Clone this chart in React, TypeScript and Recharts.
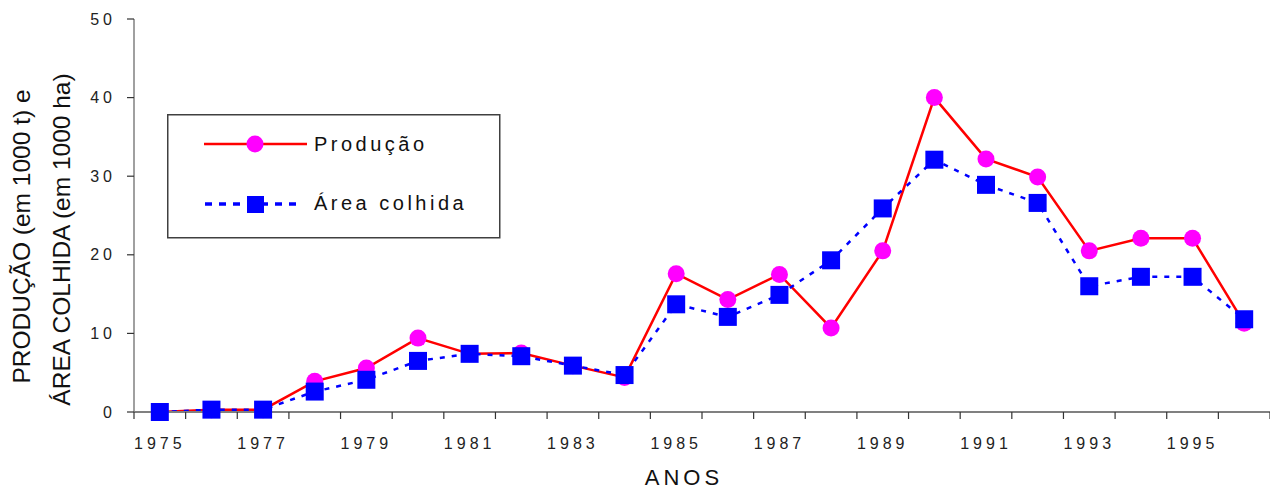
import React from 'react';
import { LineChart, Line, XAxis, YAxis, Legend } from 'recharts';

const years = [1975, 1976, 1977, 1978, 1979, 1980, 1981, 1982, 1983, 1984, 1985, 1986, 1987, 1988, 1989, 1990, 1991, 1992, 1993, 1994, 1995, 1996];
const producao = [0, 0.3, 0.3, 3.9, 5.6, 9.4, 7.4, 7.5, 5.9, 4.4, 17.6, 14.3, 17.5, 10.7, 20.5, 40.0, 32.2, 29.9, 20.5, 22.1, 22.1, 11.3];
const areaColhida = [0, 0.3, 0.3, 2.6, 4.1, 6.5, 7.4, 7.1, 5.9, 4.7, 13.7, 12.1, 14.9, 19.3, 25.9, 32.1, 28.9, 26.6, 16.0, 17.2, 17.2, 11.8];
const yTicks = [0, 10, 20, 30, 40, 50];
const labelYears = [1975, 1977, 1979, 1981, 1983, 1985, 1987, 1989, 1991, 1993, 1995];
const seriesNames = ['Produção', 'Área colhida'];
const yTitleLines = ['PRODUÇÃO (em 1000 t) e', 'ÁREA COLHIDA (em 1000 ha)'];
const xTitle = 'ANOS';

const data = years.map((year, i) => ({ year, producao: producao[i], area: areaColhida[i] }));
const boundaryTicks = [...years.map((y) => y - 0.5), years[years.length - 1] + 0.5];

const FONT = "'Liberation Sans', Arial, sans-serif";

const CircleDot = (props: any) => {
  const { cx, cy } = props;
  if (cx == null || cy == null) return <g />;
  return <circle cx={cx} cy={cy} r={8.5} fill="#ff00ff" stroke="none" />;
};

const SquareDot = (props: any) => {
  const { cx, cy } = props;
  if (cx == null || cy == null) return <g />;
  return <rect x={cx - 9} y={cy - 9} width={18} height={18} fill="#0000ff" stroke="none" />;
};

const YTitle = (props: any) => {
  const vb = props.viewBox || { x: 0, y: 11, width: 126, height: 393 };
  const cy1 = vb.y + vb.height / 2 + 21;
  const cy2 = vb.y + vb.height / 2 + 24;
  const x1 = vb.x + 22;
  const x2 = vb.x + 62;
  return (
    <g>
      <text x={x1} y={cy1} transform={`rotate(-90, ${x1}, ${cy1})`} textAnchor="middle" fontSize={24.5} fill="#111" fontFamily={FONT}>
        {yTitleLines[0]}
      </text>
      <text x={x2} y={cy2} transform={`rotate(-90, ${x2}, ${cy2})`} textAnchor="middle" fontSize={24.5} fill="#111" fontFamily={FONT}>
        {yTitleLines[1]}
      </text>
    </g>
  );
};

const XTitle = (props: any) => {
  const vb = props.viewBox || { x: 126, y: 405, width: 1136, height: 40 };
  const x = vb.x + vb.width / 2 - 18;
  const y = vb.y + 72;
  return (
    <text x={x} y={y} textAnchor="middle" fontSize={22} letterSpacing={4} fill="#111" fontFamily={FONT}>
      {xTitle}
    </text>
  );
};

const LegendBox = () => (
  <svg width={334} height={126} style={{ display: 'block' }}>
    <rect x={0.75} y={0.75} width={332} height={123} fill="#fff" stroke="#404040" strokeWidth={1.5} />
    <line x1={37} y1={30} x2={140} y2={30} stroke="#ff0000" strokeWidth={2.5} />
    <circle cx={88} cy={30} r={8.5} fill="#ff00ff" />
    <text x={147} y={37} fontSize={20} letterSpacing={3.5} fill="#111" fontFamily={FONT}>{seriesNames[0]}</text>
    <line x1={38} y1={90} x2={136} y2={90} stroke="#0000ff" strokeWidth={3.5} strokeDasharray="7 7" />
    <rect x={80} y={82} width={17} height={17} fill="#0000ff" />
    <text x={147} y={96} fontSize={20} letterSpacing={3.5} fill="#111" fontFamily={FONT}>{seriesNames[1]}</text>
  </svg>
);

const EmptyTick = () => <g />;

export default function App() {
  return (
    <div style={{ width: 1270, height: 485, background: '#fff', fontFamily: FONT }}>
      <LineChart
        width={1270}
        height={485}
        data={data}
        margin={{ top: 11, right: 8, bottom: 40, left: 0 }}
        style={{ fontFamily: FONT }}
      >
        <XAxis
          xAxisId="a"
          type="number"
          dataKey="year"
          domain={[1974.5, 1996.5]}
          ticks={boundaryTicks}
          interval={0}
          allowDataOverflow
          height={1}
          tickSize={7}
          tick={<EmptyTick />}
          axisLine={{ stroke: '#808080', strokeWidth: 2 }}
          tickLine={{ stroke: '#333', strokeWidth: 1.2 }}
        />
        <XAxis
          xAxisId="b"
          type="number"
          dataKey="year"
          domain={[1974.5, 1996.5]}
          ticks={labelYears}
          interval={0}
          allowDataOverflow
          height={40}
          axisLine={false}
          tickLine={false}
          tickSize={0}
          tickMargin={25}
          tick={{ fontSize: 16, fill: '#222', letterSpacing: 4, fontFamily: FONT }}
          label={<XTitle />}
        />
        <YAxis
          type="number"
          domain={[0, 50]}
          ticks={yTicks}
          interval={0}
          width={126}
          tickSize={7}
          tickMargin={11}
          tick={{ fontSize: 16, fill: '#222', letterSpacing: 4, fontFamily: FONT }}
          axisLine={{ stroke: '#808080', strokeWidth: 1.5 }}
          tickLine={{ stroke: '#333', strokeWidth: 1.2 }}
          label={<YTitle />}
        />
        <Legend
          layout="horizontal"
          verticalAlign="middle"
          align="center"
          content={() => <LegendBox />}
          wrapperStyle={{ position: 'absolute', left: 159, top: 106, width: 334, height: 126 }}
        />
        <Line
          xAxisId="b"
          type="linear"
          dataKey="producao"
          name={seriesNames[0]}
          stroke="#ff0000"
          strokeWidth={2.5}
          dot={<CircleDot />}
          activeDot={false}
          isAnimationActive={false}
        />
        <Line
          xAxisId="b"
          type="linear"
          dataKey="area"
          name={seriesNames[1]}
          stroke="#0000ff"
          strokeWidth={2.5}
          strokeDasharray="5 7"
          dot={<SquareDot />}
          activeDot={false}
          isAnimationActive={false}
        />
      </LineChart>
    </div>
  );
}
